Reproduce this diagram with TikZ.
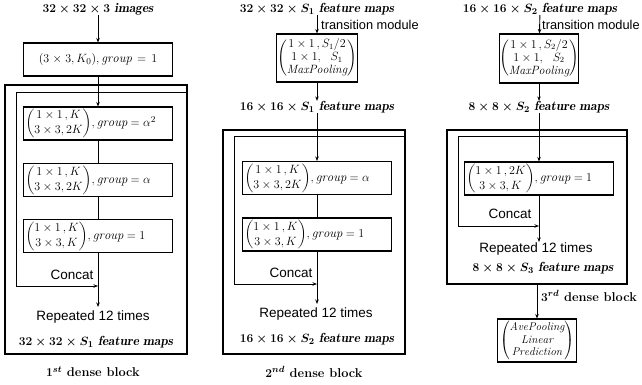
\documentclass[tikz,border=0pt]{standalone}
\usepackage{amsmath}
\usepackage{fontspec}
\setsansfont{Liberation Sans}
\usetikzlibrary{arrows.meta}
\tikzset{
  ttl/.style={font=\fontsize{13.2}{14}\selectfont\boldmath, inner sep=0pt},
  sans/.style={font=\sffamily\fontsize{13.5}{15}\selectfont, inner sep=0pt},
  trn/.style={font=\sffamily\fontsize{12.8}{14}\selectfont, inner sep=0pt, anchor=west},
  blk/.style={font=\bfseries\fontsize{12.8}{14}\selectfont\boldmath, inner sep=0pt},
  box/.style={draw, line width=1.1pt, inner xsep=2pt, inner ysep=0pt, minimum height=33pt,
    text width=145pt, align=left, font=\fontsize{12.8}{15}\selectfont},
  tbox/.style={draw, line width=1.1pt, inner sep=0pt, align=center, font=\fontsize{12}{13}\selectfont},
  fbox/.style={draw, line width=1.1pt, inner sep=0pt, align=center, font=\fontsize{11.3}{12.8}\selectfont},
  outer/.style={draw, line width=1.8pt, inner sep=0pt},
  ln/.style={line width=0.9pt},
  arr/.style={ln, -{Stealth[length=4.5pt,width=3.5pt]}}
}
\newcommand{\pmx}[1]{\begin{pmatrix}#1\end{pmatrix}}
\begin{document}
\begin{tikzpicture}[x=1pt,y=-1pt]
\useasboundingbox (0,0) rectangle (642,385);
% ---------- column 1 ----------
\node[ttl] (t1) at (98,9) {$32\times 32\times 3\ \mathit{images}$};
\node[box, align=center] (b0) at (98,59.5) {$(3\times 3,K_0),\mathit{group}=1$};
\node[outer, minimum width=182pt, minimum height=269pt] (o1) at (96,219.5) {};
\node[box] (b11) at (98,123.5) {$\pmx{1\times 1\,,K\\ 3\times 3,2K}\!,\mathit{group}=\alpha^2$};
\node[box] (b12) at (98,180) {$\pmx{1\times 1\,,K\\ 3\times 3,2K}\!,\mathit{group}=\alpha$};
\node[box] (b13) at (98,236) {$\pmx{1\times 1\,,K\\ 3\times 3,K}\!,\mathit{group}=1$};
\node[sans] (cc1) at (72,275) {Concat};
\node[sans] (r1) at (93,317) {Repeated 12 times};
\node[ttl] (f1) at (96,342) {$32\times 32\times S_1\ \mathit{feature\ maps}$};
\node[blk] (d1) at (93,372) {$1^{st}$ dense block};
\coordinate (l1a) at (16,92);
\coordinate (l1b) at (16,286);
\coordinate (l1c) at (98,286);
\coordinate (e1) at (98,307);
\draw[arr] (t1) -- (b0);
\draw[arr] (b0) -- (b11);
\draw[ln] (b11) -- (b12);
\draw[ln] (b12) -- (b13);
\draw[arr] (b13.south) -- (e1);
\draw[ln] (o1.east |- l1a) -- (l1a) -- (l1b);
\draw[arr] (l1b) -- (l1c);
% ---------- column 2 ----------
\node[ttl] (t2) at (317,9) {$32\times 32\times S_1\ \mathit{feature\ maps}$};
\node[tbox, minimum width=81pt, minimum height=48pt] (tr2) at (317,58) {$\pmx{1\times 1\,,S_1/2\\ 1\times 1,\ \ S_1\\ \mathit{MaxPooling}}$};
\node[trn] (tm2) at (321,25) {transition module};
\node[ttl] (m2) at (317,107) {$16\times 16\times S_1\ \mathit{feature\ maps}$};
\node[outer, minimum width=182pt, minimum height=224pt] (o2) at (314,242) {};
\node[box] (b21) at (317,178) {$\pmx{1\times 1\,,K\\ 3\times 3,2K}\!,\mathit{group}=\alpha$};
\node[box] (b22) at (317,234.5) {$\pmx{1\times 1\,,K\\ 3\times 3,K}\!,\mathit{group}=1$};
\node[sans] (cc2) at (291,273) {Concat};
\node[sans] (r2) at (316,314) {Repeated 12 times};
\node[ttl] (f2) at (317,339) {$16\times 16\times S_2\ \mathit{feature\ maps}$};
\node[blk] (d2) at (314,372) {$2^{nd}$ dense block};
\coordinate (l2a) at (234,136);
\coordinate (l2b) at (234,284);
\coordinate (l2c) at (317,284);
\coordinate (e2) at (317,304);
\draw[arr] (t2) -- (tr2);
\draw[arr] (tr2) -- (m2);
\draw[arr] (m2) -- (b21);
\draw[ln] (b21) -- (b22);
\draw[arr] (b22.south) -- (e2);
\draw[ln] (o2.east |- l2a) -- (l2a) -- (l2b);
\draw[arr] (l2b) -- (l2c);
% ---------- column 3 ----------
\node[ttl] (t3) at (540,9) {$16\times 16\times S_2\ \mathit{feature\ maps}$};
\node[tbox, minimum width=79pt, minimum height=49pt] (tr3) at (539,58.5) {$\pmx{1\times 1\,,S_2/2\\ 1\times 1,\ \ S_2\\ \mathit{MaxPooling}}$};
\node[trn] (tm3) at (542,25) {transition module};
\node[ttl] (m3) at (539,107) {$8\times 8\times S_2\ \mathit{feature\ maps}$};
\node[outer, minimum width=180pt, minimum height=154pt] (o3) at (537,207) {};
\node[box] (b31) at (539,178.5) {$\pmx{1\times 1\,,2K\\ 3\times 3,K}\!,\mathit{group}=1$};
\node[sans] (cc3) at (510,214) {Concat};
\node[sans] (r3) at (536,249) {Repeated 12 times};
\node[ttl] (f3) at (543,268) {$8\times 8\times S_3\ \mathit{feature\ maps}$};
\node[fbox, minimum width=79pt, minimum height=43pt] (fin) at (537,340.5) {$\pmx{\mathit{AvePooling}\\ \mathit{Linear}\\ \mathit{Prediction}}$};
\node[blk, anchor=west] (d3) at (541,296) {$3^{rd}$ dense block};
\coordinate (l3a) at (458,136);
\coordinate (l3b) at (458,226);
\coordinate (l3c) at (539,226);
\coordinate (e3) at (539,242);
\draw[arr] (t3) -- (tr3);
\draw[arr] (tr3) -- (m3);
\draw[arr] (m3) -- (b31);
\draw[arr] (b31.south) -- (e3);
\draw[ln] (o3.east |- l3a) -- (l3a) -- (l3b);
\draw[arr] (l3b) -- (l3c);
\draw[arr] (o3.south) -- (fin.north);
\end{tikzpicture}
\end{document}
